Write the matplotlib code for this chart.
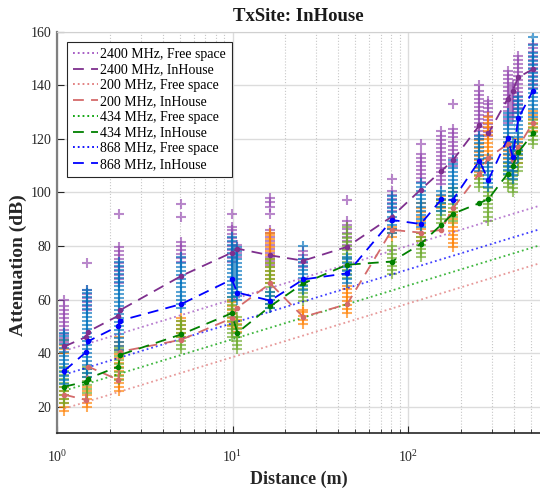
import matplotlib
matplotlib.use("Agg")
import matplotlib.pyplot as plt
import numpy as np

plt.rcParams['font.family'] = ['Liberation Serif', 'DejaVu Serif']
plt.rcParams['mathtext.fontset'] = 'custom'
plt.rcParams['mathtext.rm'] = 'Liberation Serif'

# distances of the measurement columns (m)
scatter_dist = [1.1, 1.48, 2.26, 5.1, 9.9, 10.65, 16.4, 25.3, 45, 81, 118,
                155, 180, 255, 287, 370, 395, 425, 515]

# measured attenuation samples (dB), one list per distance
att_2400 = [
    [44, 45.5, 47, 48.5, 50, 51.5, 53, 54.5, 56, 57.5, 60],
    [56, 57.5, 59, 60.5, 62, 63.5, 73.5],
    [66, 67.5, 69, 70.5, 72, 73.5, 75, 76.5, 78, 79.5, 92],
    [74, 75.5, 77, 78.5, 80, 81.5, 91, 95.5],
    [74, 75.5, 77, 78.5, 80, 81.5, 83, 84.5, 86, 87, 92],
    [76, 77.5, 79, 80.5],
    [73, 74.5, 76, 77.5, 79, 80.5, 82, 83.5, 85, 86, 92, 94.5, 96.5, 98],
    [72, 73.5, 75, 76.5, 78],
    [79, 80.5, 82, 83.5, 85, 86.5, 88, 89.5, 97],
    [93, 94.5, 96, 97.5, 99, 100.5, 105],
    [104, 105.5, 107, 108.5, 110, 111.5, 113, 114.5, 118],
    [103, 104.5, 106, 107.5, 109, 110.5, 112, 113.5, 115, 116.5, 118, 119.5,
     121, 123],
    [110, 111.5, 113, 114.5, 116, 117.5, 119, 120.5, 122, 123.5, 133],
    [120, 121.5, 123, 124.5, 126, 127.5, 129, 130.5, 132, 133.5, 135, 136.5,
     138, 140],
    [121, 122.5, 124, 125.5, 127, 128.5, 130, 131.5, 133, 134],
    [126, 127.5, 129, 130.5, 132, 133.5, 135, 136.5, 138, 139.5, 141, 142.5,
     144, 145.5],
    [128, 129.5, 131, 132.5, 134, 135.5, 137, 138.5, 140],
    [130, 131.5, 133, 134.5, 136, 137.5, 139, 140.5, 142, 143.5, 145, 146.5,
     148, 149.5, 151],
    [139, 140.5, 142, 143.5, 145, 146.5, 148, 149.5, 151, 152.5, 154, 155.5],
]
att_200 = [
    [18.5, 20, 21.5, 23, 24.5, 26, 27.5, 40, 41.5, 43, 45],
    [20, 21.5, 23, 24.5, 26, 27.5],
    [26, 27.5, 29, 30.5, 32, 33.5, 35, 36.5, 38, 39.5, 41, 42.5, 44, 46],
    [46, 47.5, 49, 50.5, 52, 53],
    [50, 51.5, 53, 54.5, 56, 57.5, 59, 60],
    [48, 49.5, 51, 52.5],
    [66, 67.5, 69, 70.5, 72, 73.5, 75, 76.5, 78, 79.5, 81, 82.5, 84, 85],
    [51, 52.5, 54, 55.5, 56],
    [55, 56.5, 58, 59.5, 61, 62.5, 64, 65],
    [83.5, 85, 86.5, 87],
    [82, 83.5, 85, 86.5, 88, 89.5, 91, 92.5, 94, 96],
    [94, 95.5, 97, 98.5],
    [79.5, 81, 82.5, 84, 85.5, 87, 88.5, 90, 91.5, 92.5],
    [106, 107.5, 109, 110.5, 112, 113.5, 115, 116.5, 118, 119.5],
    [111, 112.5, 114, 115.5, 117, 118.5, 120, 121.5, 123, 124.5, 126, 128],
    [111, 112.5, 114, 115.5, 117, 118.5, 120.5],
    [108, 109.5, 111, 112.5, 114],
    [111, 112.5, 114, 115.5, 117, 118.5, 120],
    [123, 124.5, 126, 127.5, 129, 130.5],
]
att_434 = [
    [21.5, 23, 24.5, 26, 27.5, 29, 30.5, 32, 33.5, 35],
    [25, 26.5, 28, 29.5, 31, 32.5, 34, 35],
    [30, 31.5, 33, 34.5, 36, 37.5, 39, 40.5, 42],
    [41.5, 43, 44.5, 46, 47.5, 49, 50.5, 52],
    [46, 47.5, 49, 50.5, 52, 53.5, 55, 56.5, 58, 59.5, 61],
    [41.5, 43, 44.5, 46, 47.5, 49, 50.5, 52, 53.5],
    [57, 58.5, 60, 61.5, 63, 64.5, 66, 67.5, 69, 70.5, 72, 73.5, 75],
    [59.5, 61, 62.5, 64, 65.5, 67],
    [68, 69.5, 71, 72.5, 74, 75.5, 77, 78.5, 80, 81.5, 83, 84.5, 87],
    [69.5, 71, 72.5, 74, 75.5, 77, 78.5, 80],
    [76, 77.5, 79, 80.5, 82, 83.5, 85],
    [88.5, 90, 91.5, 93, 94.5, 96, 97],
    [89.5, 91, 92.5, 94, 95.5, 97, 98.5, 100, 101.5],
    [102, 103.5, 105, 106.5],
    [89.5, 91, 92.5, 94, 95.5, 97, 98.5, 100, 101.5],
    [102, 103.5, 105, 106.5, 108, 109.5, 111],
    [100, 101.5, 103, 104.5, 106, 107.5],
    [108, 109.5, 111, 112.5, 114, 115.5],
    [118, 119.5, 121, 122.5, 124, 125.5, 127],
]
att_868 = [
    [28.5, 30, 31.5, 33, 34.5, 36, 37.5, 39, 40.5, 42, 43.5, 45, 46.5, 47.5],
    [31, 32.5, 34, 35.5, 37, 38.5, 40, 41.5, 43, 44.5, 46, 47.5, 49, 50.5,
     52, 53.5, 55, 56.5, 58, 59.5, 61, 62.5, 63.5],
    [41, 42.5, 44, 45.5, 47, 48.5, 50, 51.5, 53, 54.5, 56, 57.5, 59, 60.5,
     62, 63.5, 65, 66.5, 68, 69.5, 71, 72.5, 74],
    [57, 58.5, 60, 61.5, 63, 64.5, 66, 67.5, 69, 70.5, 72, 73.5, 76],
    [61, 62.5, 64, 65.5, 67, 68.5, 70, 71.5, 73, 74.5, 76, 77.5, 79, 80.5,
     82, 83.5],
    [60, 61.5, 63, 64.5, 66, 67.5, 69, 70.5, 72, 73.5, 75, 76.5, 78, 79.5],
    [57, 58.5, 60, 61.5, 63],
    [63.5, 65, 66.5, 68, 69.5, 71, 72.5, 74, 75, 80],
    [66, 67.5, 69, 70.5, 72, 73.5, 75, 76],
    [85, 86.5, 88, 89.5, 91, 92.5, 94, 95.5, 97, 98.5],
    [87, 88.5, 90, 91.5, 93, 94.5, 96, 97.5, 99, 100.5, 102, 103.5],
    [93, 94.5, 96, 97.5, 99, 100.5],
    [97, 98.5, 100, 101.5, 103, 104.5, 106, 107.5, 109, 110.5, 112],
    [108, 109.5, 111, 112.5, 114, 115.5, 117, 118.5, 120, 121],
    [102, 103.5, 105, 106.5, 108, 109.5, 111, 113],
    [107, 108.5, 110, 111.5, 113, 114.5, 116, 117.5, 119, 120.5, 122, 123.5,
     125, 126.5, 128, 129.5],
    [105, 106.5, 108, 109.5, 111, 112.5, 114, 115.5, 117, 119],
    [113, 114.5, 116, 117.5, 119, 120.5, 122, 123.5, 125, 126.5, 128, 129.5,
     131, 132.5, 134, 135.5],
    [128, 129.5, 131, 132.5, 134, 135.5, 137, 138.5, 140, 141.5, 143, 144.5,
     146, 147.5, 149, 150.5, 152, 155, 158],
]

# mean attenuation per position (InHouse curves)
line_dist = [1.1, 1.46, 1.5, 2.24, 2.28, 5.1, 9.9, 10.65, 16.4, 25.3, 45, 81,
             118, 155, 180, 255, 287, 370, 395, 425, 515]
mean_2400 = [42.5, 46, 48, 54, 56, 68.8, 77.5, 79, 76.5, 74.5, 79.7, 91,
             101, 108, 112, 125, 122, 135, 138, 143, 146]
mean_200 = [24.5, 22.5, 35, 30, 40.5, 45, 53, 57, 66, 53.5, 58.3, 86,
            85, 86, 94, 107, 113, 118, 112, 117, 126]
mean_434 = [27.5, 29.3, 30.5, 35, 39.3, 47, 54.9, 47.6, 57.5, 66, 73, 74.2,
            80.7, 88, 92, 96, 97.5, 107, 110, 115, 122]
mean_868 = [33.4, 40.3, 44.4, 50.1, 52.1, 58.3, 67.5, 62.6, 59.6, 67.5, 69.8,
            89.7, 88.2, 97.4, 97.2, 111.8, 104.6, 120.2, 113.3, 127.6, 138]

# free space loss at the ends of the range
fs_dist = [1.1, 560]
fs_2400 = [40.9, 95.0]
fs_200 = [19.3, 73.5]
fs_434 = [26.0, 80.2]
fs_868 = [32.0, 86.2]

freqs = ['2400', '200', '434', '868']
samples = {'2400': att_2400, '200': att_200, '434': att_434, '868': att_868}
means = {'2400': mean_2400, '200': mean_200, '434': mean_434, '868': mean_868}
fspl = {'2400': fs_2400, '200': fs_200, '434': fs_434, '868': fs_868}

marker_col = {'2400': '#9448B0', '200': '#FF8000', '434': '#6DAA2C', '868': '#0072BD'}
line_col = {'2400': '#7E2F8E', '200': '#D46A6A', '434': '#008000', '868': '#0000FF'}
fs_col = {'2400': '#A050C0', '200': '#E07878', '434': '#00A000', '868': '#0000FF'}

fig = plt.figure(figsize=(5.4, 4.88), dpi=100)
ax = fig.add_axes([0.1056, 0.1117, 0.8944, 0.8234])

# scatter columns: purple first, blue on top
for f in ['2400', '200', '434', '868']:
    xs, ys = [], []
    for d, vals in zip(scatter_dist, samples[f]):
        xs += [d] * len(vals)
        ys += vals
    ax.plot(xs, ys, '+', color=marker_col[f], ms=7.5, mew=1.5, alpha=0.65,
            zorder=2)

for f in freqs:
    ax.plot(fs_dist, fspl[f], ':', color=fs_col[f], lw=1.3, alpha=0.75,
            label=f'{f} MHz, Free space', zorder=3)
    ax.plot(line_dist, means[f], '--', color=line_col[f], lw=1.3,
            marker='.', ms=6, dashes=(6, 4),
            label=f'{f} MHz, InHouse', zorder=4)

ax.set_xscale('log')
ax.set_xlim(1, 565)
ax.set_ylim(10, 160)
ax.set_yticks(np.arange(20, 161, 20))

ax.grid(True, which='major', color='#DCDCDC', lw=1.0, zorder=0)
ax.grid(True, which='minor', axis='x', color='#C8C8C8', ls=':', lw=0.8)
ax.set_axisbelow(True)

ax.tick_params(which='both', direction='in', top=False, right=False,
               labelsize=10, colors='#262626')
ax.tick_params(which='major', length=5)
ax.tick_params(which='minor', length=3)
ax.tick_params(axis='x', pad=11)
ax.tick_params(axis='y', pad=4)
ax.spines['left'].set_color('#808080')
ax.spines['left'].set_linewidth(1.6)
ax.spines['bottom'].set_color('#262626')
ax.spines['bottom'].set_linewidth(1.2)
ax.spines['top'].set_color('#D0D0D0')
ax.spines['right'].set_visible(False)

ax.set_title('TxSite: InHouse', fontsize=13.5, fontweight='bold', pad=8,
             color='#1a1a1a')
ax.set_xlabel('Distance (m)', fontsize=13, fontweight='bold', color='#262626',
              labelpad=4)
ax.set_ylabel('Attenuation (dB)', fontsize=14, fontweight='bold',
              color='#262626')
ax.yaxis.set_label_coords(-0.062, 0.42)

leg = ax.legend(loc='upper left', bbox_to_anchor=(0.0207, 0.974),
                borderaxespad=0, fontsize=10, frameon=True, fancybox=False,
                edgecolor='#262626', framealpha=1, labelspacing=0.2,
                handlelength=1.8, handletextpad=0.2, borderpad=0.4)
leg.get_frame().set_linewidth(0.8)
for h in leg.get_lines():
    h.set_marker('')
    h.set_alpha(1)

fig.savefig('out.png', dpi=100)
